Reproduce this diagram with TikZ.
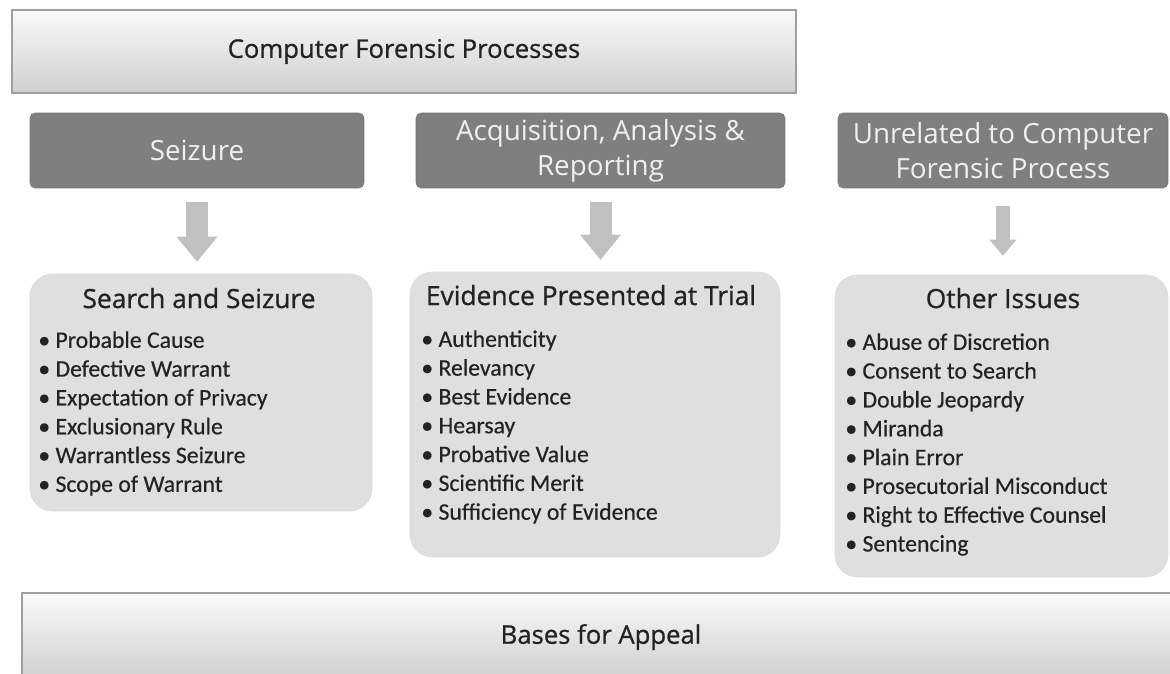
\documentclass[tikz,border=0pt]{standalone}
\usepackage{fontspec}
\setmainfont{Open Sans}
\newfontfamily\heavyfont{Open Sans}[FakeBold=0.9]
\newfontfamily\listfont{Carlito}[FakeBold=0.5]
\usetikzlibrary{arrows.meta,positioning}

\definecolor{stageGray}{HTML}{7F7F7F}
\definecolor{issueGray}{HTML}{DFDFDF}
\definecolor{arrowGray}{HTML}{C0C0C0}
\definecolor{textDark}{HTML}{232323}

\begin{document}
\begin{tikzpicture}[x=0.02cm, y=-0.02cm,
    bar/.style={rectangle, draw=gray!75, line width=0.8pt, top color=gray!4, bottom color=gray!38, text=textDark, font=\heavyfont\fontsize{14.6}{18}\selectfont, inner sep=0pt},
    stage/.style={rectangle, draw=stageGray!92!black, rounded corners=3pt, fill=stageGray, text=white!94!black, align=center, font=\fontsize{15.8}{20}\selectfont, minimum height=1.5cm, inner sep=0pt},
    issues/.style={rectangle, draw=gray!28, rounded corners=0.45cm, fill=issueGray, inner sep=0pt},
    heading/.style={anchor=base, text=textDark, font=\heavyfont\fontsize{15}{18}\selectfont, inner sep=0pt},
    items/.style={anchor=north west, align=left, text=textDark, font=\listfont\fontsize{13.5}{16.4}\selectfont, inner sep=0pt},
    down/.style={draw=arrowGray, line width=0.44cm, -{Triangle[width=0.82cm, length=0.5cm, line width=0pt]}, shorten <=0.28cm, shorten >=0.24cm},
    down thin/.style={down, line width=0.28cm, -{Triangle[width=0.54cm, length=0.32cm, line width=0pt]}, shorten <=0.36cm, shorten >=0.38cm}
]
    \useasboundingbox (0,0) rectangle (1170,673);
    \clip (0,0) rectangle (1170,673);

    % title bar
    \node (ForensicBar) [bar, minimum width=15.68cm, minimum height=1.66cm] at (404,51.5) {Computer Forensic Processes};

    % the three stages
    \node (SeizureStage) [stage, minimum width=6.68cm] at (197,150.5) {Seizure};

    \node (AnalysisStage) [stage, minimum width=7.38cm] at (600.5,150.5) {Acquisition, Analysis \&\\Reporting};

    \node (UnrelatedStage) [stage, minimum width=6.6cm] at (1003,150.5) {Unrelated to Computer\\Forensic Process};

    % issue boxes
    \node (SearchIssues) [issues, minimum width=6.84cm, minimum height=4.74cm] at (201,392.5) {};
    \node (SearchTitle) [heading] at (199,308) {Search and Seizure};
    \node (SearchList) [items] at (38,331) {
        • Probable Cause\\
        • Defective Warrant\\
        • Expectation of Privacy\\
        • Exclusionary Rule\\
        • Warrantless Seizure\\
        • Scope of Warrant
    };

    \node (TrialIssues) [issues, minimum width=7.4cm, minimum height=5.7cm] at (595,414.5) {};
    \node (TrialTitle) [heading] at (591,305) {Evidence Presented at Trial};
    \node (TrialList) [items] at (421,330) {
        • Authenticity\\
        • Relevancy\\
        • Best Evidence\\
        • Hearsay\\
        • Probative Value\\
        • Scientific Merit\\
        • Sufficiency of Evidence
    };

    \node (OtherIssues) [issues, minimum width=6.66cm, minimum height=6.04cm] at (1001.5,426) {};
    \node (OtherTitle) [heading] at (1003,308) {Other Issues};
    \node (OtherList) [items] at (845,333) {
        • Abuse of Discretion\\
        • Consent to Search\\
        • Double Jeopardy\\
        • Miranda\\
        • Plain Error\\
        • Prosecutorial Misconduct\\
        • Right to Effective Counsel\\
        • Sentencing
    };

    % arrows from stages to issues
    \draw[down] (SeizureStage.south) -- (SeizureStage.south |- SearchIssues.north);
    \draw[down] (AnalysisStage.south) -- (AnalysisStage.south |- TrialIssues.north);
    \draw[down thin] (UnrelatedStage.south) -- (UnrelatedStage.south |- OtherIssues.north);

    % bottom bar
    \node (AppealBar) [bar, minimum width=23.16cm, minimum height=1.76cm] at (601,637) {Bases for Appeal};
\end{tikzpicture}
\end{document}
